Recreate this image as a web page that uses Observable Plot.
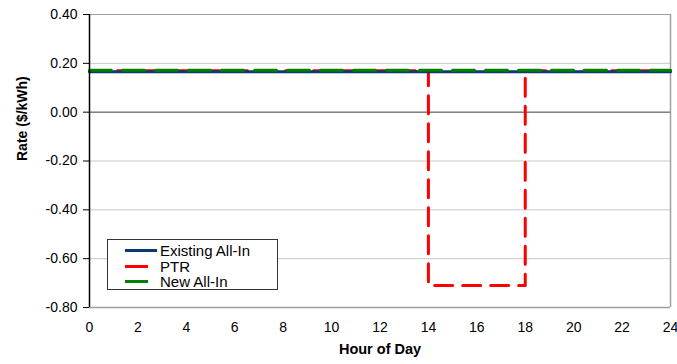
<!DOCTYPE html>
<html><head><meta charset="utf-8">
<script src="https://cdn.jsdelivr.net/npm/d3@7"></script>
<script src="https://cdn.jsdelivr.net/npm/@observablehq/plot@0.6"></script>
<style>
body{margin:0;background:#fff;font-family:"Liberation Sans",Arial,sans-serif;}
#wrap{position:relative;width:677px;height:364px;}
#legend{position:absolute;left:107px;top:239px;width:169px;height:49px;border:1px solid #333;background:#fff;font-size:15px;color:#000;}
.row{position:absolute;left:0;height:15px;line-height:15px;}
.row svg{position:absolute;top:0;}
.row span{position:absolute;left:52px;white-space:nowrap;}
</style></head><body>
<div id="wrap"></div>
<script>
const hours = d3.range(0, 25);
const existingAllIn = hours.map(() => 0.166);
const newAllIn = hours.map(() => 0.172);
const ptr = hours.map(h => (h >= 14 && h < 18) ? -0.71 : 0.17);
const yTicks = [0.4, 0.2, 0, -0.2, -0.4, -0.6, -0.8];
const xTicks = d3.range(0, 25, 2);
const series = [
  {name: "Existing All-In", color: "#0b3a6f", dash: null, w: 3},
  {name: "PTR", color: "#ff0000", dash: "18,10", w: 3},
  {name: "New All-In", color: "#008000", dash: "22,11", w: 3}
];
const rows = hours.map((h, i) => ({h, e: existingAllIn[i], p: ptr[i], n: newAllIn[i]}));

const chart = Plot.plot({
  width: 677, height: 364,
  marginLeft: 89, marginRight: 7, marginTop: 14, marginBottom: 57,
  style: {fontFamily: '"Liberation Sans", Arial, sans-serif', fontSize: "14px", color: "#000", background: "#fff"},
  x: {domain: [0, 24]},
  y: {domain: [-0.8, 0.4]},
  marks: [
    Plot.gridY(yTicks, {stroke: "#c8c8c8", strokeOpacity: 1}),
    Plot.ruleY([0], {stroke: "#808080", strokeWidth: 1.5}),
    Plot.ruleY([0.4], {stroke: "#a0a0a0"}),
    Plot.ruleY([-0.8], {stroke: "#a0a0a0", strokeWidth: 1.5}),
    Plot.ruleX([24], {stroke: "#a0a0a0", strokeWidth: 1.5}),
    Plot.line(rows, {x: "h", y: "p", curve: "step-after", stroke: series[1].color, strokeWidth: 3, strokeDasharray: series[1].dash}),
    Plot.line(rows, {x: "h", y: "e", stroke: series[0].color, strokeWidth: 3}),
    Plot.line(rows, {x: "h", y: "n", stroke: series[2].color, strokeWidth: 3, strokeDasharray: series[2].dash}),
    Plot.ruleX([0], {stroke: "#000", strokeWidth: 1.5}),
    Plot.axisY(yTicks, {tickSize: 6, tickPadding: 6, tickFormat: d => d.toFixed(2), fontSize: 14, label: null}),
    Plot.axisX(xTicks, {tickSize: 0, tickPadding: 15, fontSize: 14, label: null}),
    Plot.text(["Rate ($/kWh)"], {frameAnchor: "left", dx: -67, rotate: -90, fontWeight: "bold", fontSize: 14, text: d => d}),
    Plot.text(["Hour of Day"], {frameAnchor: "bottom", dy: 46, fontWeight: "bold", fontSize: 14.5, text: d => d})
  ]
});
const wrap = document.getElementById("wrap");
wrap.appendChild(chart);

const leg = document.createElement("div");
leg.id = "legend";
const tops = [3, 18.5, 34];
const lens = [32, 23, 23];
series.forEach((s, i) => {
  const r = document.createElement("div");
  r.className = "row";
  r.style.top = tops[i] + "px";
  r.innerHTML = `<svg width="60" height="15" style="left:0"><line x1="17" x2="${17 + lens[i]}" y1="7.5" y2="7.5" stroke="${s.color}" stroke-width="3"/></svg><span>${s.name}</span>`;
  leg.appendChild(r);
});
wrap.appendChild(leg);
</script>
</body></html>
